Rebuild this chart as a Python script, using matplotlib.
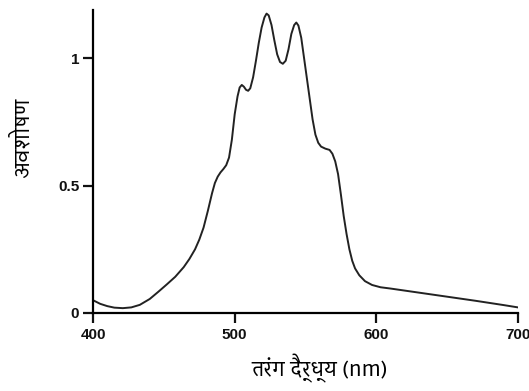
import matplotlib
matplotlib.use("Agg")
import matplotlib.pyplot as plt
from matplotlib import font_manager
from matplotlib.ft2font import FT2Font

# absorption spectrum
wavelength = [400, 405, 410, 415, 421, 427, 433, 440, 446, 452, 458, 464, 468,
              472, 475, 478, 481, 484, 486, 488, 490, 492, 494, 496, 498, 500,
              502, 503.5, 505, 506.5, 508, 509.5, 511, 513, 515, 517, 519, 521,
              522.5, 524, 526, 528, 530, 532, 534, 536, 538, 540, 542, 543.5,
              545, 547, 549, 551, 553, 555, 557, 559, 561, 564, 567, 569, 571,
              573, 575, 577, 579, 581, 583, 585, 588, 592, 597, 603, 610, 630,
              650, 670, 690, 700]
absorb = [0.050, 0.036, 0.027, 0.021, 0.019, 0.022, 0.032, 0.055, 0.083,
          0.112, 0.142, 0.180, 0.212, 0.250, 0.288, 0.335, 0.40, 0.47, 0.51,
          0.535, 0.552, 0.565, 0.58, 0.61, 0.68, 0.78, 0.85, 0.885, 0.895,
          0.888, 0.876, 0.872, 0.882, 0.925, 0.99, 1.06, 1.12, 1.16, 1.175,
          1.168, 1.13, 1.07, 1.015, 0.985, 0.978, 0.99, 1.035, 1.095, 1.13,
          1.14, 1.128, 1.08, 1.00, 0.92, 0.84, 0.76, 0.70, 0.668, 0.653,
          0.645, 0.64, 0.625, 0.595, 0.545, 0.465, 0.38, 0.31, 0.25, 0.205,
          0.175, 0.148, 0.125, 0.11, 0.101, 0.096, 0.08, 0.064, 0.048, 0.031,
          0.022]

xticks = [400, 500, 600, 700]
yticks = [0, 0.5, 1]
ytick_labels = ["0", "0.5", "1"]
xlabel = "तरंग दैर्ध्य (nm)"
ylabel = "अवशोषण"


def devanagari_family():
    found = []
    for path in font_manager.findSystemFonts():
        try:
            if ord("अ") in FT2Font(path).get_charmap():
                found.append(font_manager.FontProperties(fname=path).get_name())
        except Exception:
            pass
    found.sort(key=lambda n: ("Mono" in n, "Serif" in n, "Sans" not in n))
    return found[0] if found else "DejaVu Sans"


hfam = devanagari_family()

plt.rcParams["font.family"] = ["Liberation Sans", "DejaVu Sans"]

fig = plt.figure(figsize=(5.29, 3.91), dpi=100)
ax = fig.add_axes([0.176, 0.1995, 0.803, 0.7755])

ax.plot(wavelength, absorb, color="#222222", lw=1.4)

ax.set_xlim(400, 700)
ax.set_ylim(0, 1.19)
ax.set_xticks(xticks)
ax.set_yticks(yticks)
ax.set_yticklabels(ytick_labels)
for lab in ax.get_xticklabels() + ax.get_yticklabels():
    lab.set_fontweight("bold")
    lab.set_fontsize(11)

for s in ["top", "right"]:
    ax.spines[s].set_visible(False)
for s in ["left", "bottom"]:
    ax.spines[s].set_linewidth(1.6)
ax.tick_params(width=1.6, length=7, colors="#111111")
ax.tick_params(axis="x", pad=4)
ax.tick_params(axis="y", pad=3)

ax.set_xlabel(xlabel, family=[hfam, "DejaVu Sans"], fontsize=15,
              va="center", ha="center")
ax.xaxis.set_label_coords(0.532, -0.183)
ax.set_ylabel(ylabel, family=[hfam, "DejaVu Sans"], fontsize=15,
              va="center", ha="center")
ax.yaxis.set_label_coords(-0.165, 0.577)

fig.savefig("out.png", dpi=100)
